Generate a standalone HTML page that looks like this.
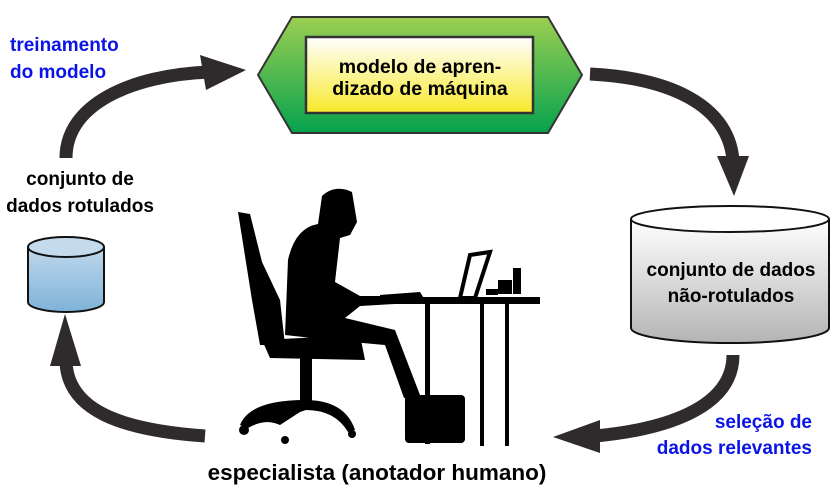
<!DOCTYPE html>
<html><head><meta charset="utf-8"><style>
body{margin:0;background:#fff;width:840px;height:494px;overflow:hidden}
text{font-family:"Liberation Sans",sans-serif;font-weight:bold}
</style></head><body>
<svg width="840" height="494" viewBox="0 0 840 494" xmlns="http://www.w3.org/2000/svg">
<defs>
<linearGradient id="g" x1="0" y1="0" x2="0" y2="1"><stop offset="0" stop-color="#9ccf52"/><stop offset="1" stop-color="#06a24e"/></linearGradient>
<linearGradient id="y" x1="0" y1="0" x2="0" y2="1"><stop offset="0" stop-color="#ffffff"/><stop offset="1" stop-color="#f7e92a"/></linearGradient>
<linearGradient id="b" x1="0" y1="0" x2="0" y2="1"><stop offset="0" stop-color="#c0d8ec"/><stop offset="1" stop-color="#7fb2d8"/></linearGradient>
<linearGradient id="gr" x1="0" y1="0" x2="0" y2="1"><stop offset="0" stop-color="#ffffff"/><stop offset="1" stop-color="#b4b4b4"/></linearGradient>
</defs>
<g fill="none" stroke="#2f2b2c" stroke-width="13">
<path d="M66 158 C66 105 130 75 210 72"/>
<path d="M590 74 C670 78 728 105 733 160"/>
<path d="M733 355 C733 410 660 430 595 436"/>
<path d="M205 436 C120 430 68 410 66 362"/>
</g>
<g fill="#2f2b2c">
<polygon points="246,70 200,55 206,90"/>
<polygon points="734,196 717,156 749,156"/>
<polygon points="553,437 600,420 600,453"/>
<polygon points="65,314 50,366 81,366"/>
</g>
<polygon points="258,75 292,17 548,17 582,75 548,133 292,133" fill="url(#g)" stroke="#333" stroke-width="2"/>
<rect x="306" y="37" width="227" height="76" fill="url(#y)" stroke="#333" stroke-width="2.5"/>
<text x="420" y="73" font-size="19.5" text-anchor="middle">modelo de apren-</text>
<text x="420" y="95" font-size="19.5" text-anchor="middle">dizado de máquina</text>
<path d="M28 247 V302 A38 10 0 0 0 104 302 V247" fill="url(#b)" stroke="#111" stroke-width="2"/>
<ellipse cx="66" cy="247" rx="38" ry="10" fill="#c4dbee" stroke="#111" stroke-width="2"/>
<path d="M631 219 V328 A99 15 0 0 0 829 328 V219" fill="url(#gr)" stroke="#111" stroke-width="2"/>
<ellipse cx="730" cy="219" rx="99" ry="13" fill="#fff" stroke="#111" stroke-width="2"/>
<text x="731" y="276" font-size="19" text-anchor="middle">conjunto de dados</text>
<text x="731" y="302" font-size="19" text-anchor="middle">não-rotulados</text>
<text x="10" y="51" font-size="19" fill="#0a14e6">treinamento</text>
<text x="10" y="78" font-size="19" fill="#0a14e6">do modelo</text>
<text x="80" y="185" font-size="19" text-anchor="middle">conjunto de</text>
<text x="80" y="212" font-size="19" text-anchor="middle">dados rotulados</text>
<text x="812" y="428" font-size="19" fill="#0a14e6" text-anchor="end">seleção de</text>
<text x="812" y="454" font-size="19" fill="#0a14e6" text-anchor="end">dados relevantes</text>
<text x="377" y="480" font-size="22.5" text-anchor="middle">especialista (anotador humano)</text>
<g fill="#000">
<path d="M238 212 L250 214 L262 262 L280 300 L285 345 L260 345 L252 300 Z"/>
<path d="M262 340 L360 335 L365 360 L270 358 Z"/>
<rect x="300" y="355" width="12" height="55"/>
<path d="M240 425 Q250 400 305 400 Q345 400 355 430 L348 432 Q335 410 306 410 L300 412 L280 425 Q265 418 248 428 Z"/>
<circle cx="244" cy="430" r="5"/><circle cx="352" cy="434" r="4"/><circle cx="285" cy="440" r="4"/>
<path d="M322 196 Q335 184 352 192 L357 222 L350 235 L340 238 L335 282 L360 296 L395 296 L395 304 L360 306 L345 318 L395 330 L420 395 L404 398 L385 345 L330 340 L285 335 L288 260 Q295 228 318 224 Z"/>
<path d="M380 295 L420 292 L425 300 L380 302 Z"/>
<rect x="405" y="395" width="60" height="48" rx="4"/>
<rect x="370" y="297" width="170" height="7"/>
<rect x="425" y="304" width="5" height="140"/>
<rect x="480" y="304" width="4" height="142"/>
<rect x="505" y="304" width="4" height="142"/>
<path d="M470 255 L490 252 L475 298 L460 298 Z" fill="none" stroke="#000" stroke-width="4"/>
<rect x="498" y="280" width="14" height="14"/>
<rect x="513" y="268" width="8" height="26"/>
<rect x="486" y="289" width="12" height="6"/>
</g>
</svg>
</body></html>
